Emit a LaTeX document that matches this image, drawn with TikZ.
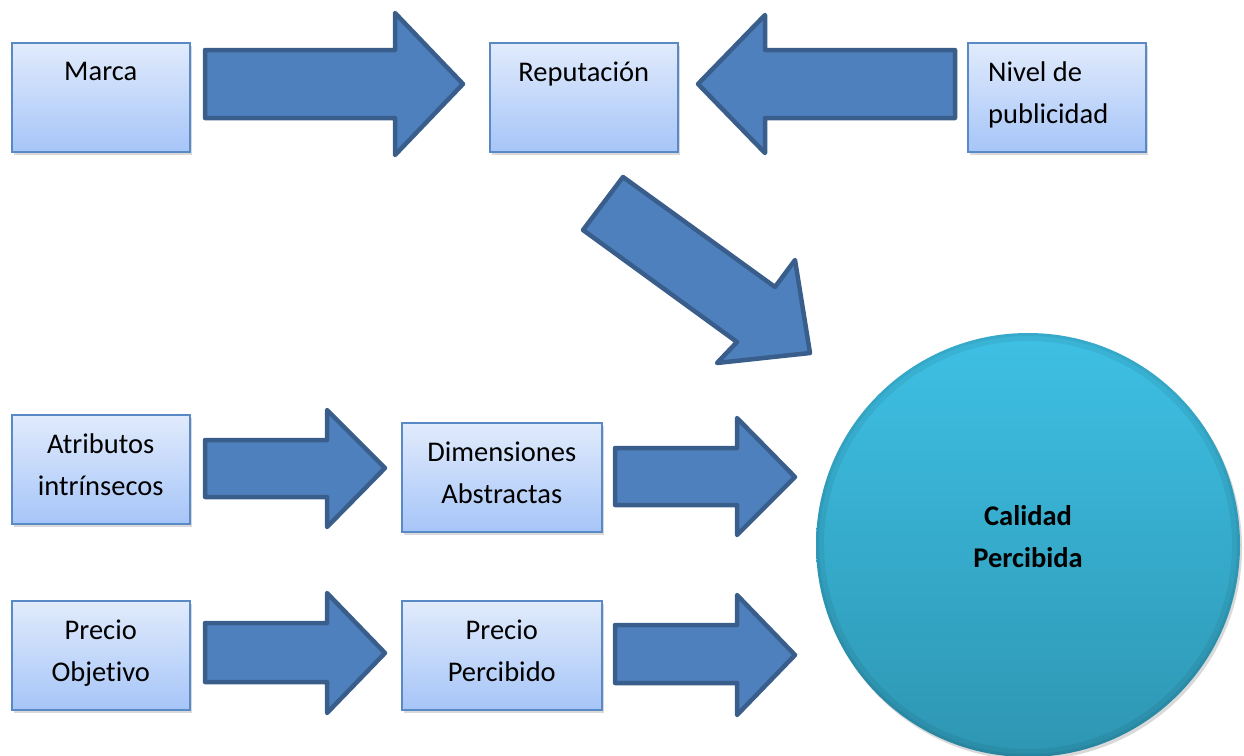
\documentclass[tikz,border=0pt]{standalone}
\usepackage{fontspec}
\setmainfont{Carlito}[Ligatures=NoCommon]
\usetikzlibrary{shadows}
\definecolor{boxtop}{HTML}{E1EBFC}
\definecolor{boxbot}{HTML}{A6C5F8}
\definecolor{boxline}{HTML}{5A8AC6}
\definecolor{arrfill}{HTML}{4D80BD}
\definecolor{arrline}{HTML}{3A5E8C}
\definecolor{ctop}{HTML}{3EC0E4}
\definecolor{cbot}{HTML}{2E96B3}
\tikzset{
  bx/.style={draw=boxline, line width=1.5pt, top color=boxtop, bottom color=boxbot,
    drop shadow={shadow xshift=2pt, shadow yshift=-3pt, opacity=0.3},
    inner sep=0pt, anchor=north west, minimum height=109pt},
  bigarrow/.style={draw=arrline, fill=arrfill, line width=4.5pt, line join=round},
  lbl/.style={font=\fontsize{28.5}{41.5}\selectfont, align=center, inner sep=0pt, anchor=north},
  clbl/.style={font=\fontsize{28.5}{42}\selectfont\bfseries, align=center, inner sep=0pt, anchor=north}
}
\begin{document}
\begin{tikzpicture}[x=1pt,y=-1pt]
\useasboundingbox (0,0) rectangle (1244,755);

% boxes
\node[bx, minimum width=178pt] (marca) at (11,42) {};
\node[bx, minimum width=188pt] (rep) at (489,42) {};
\node[bx, minimum width=178pt] (nivel) at (967,42) {};
\node[bx, minimum width=178pt] (atr) at (11,414) {};
\node[bx, minimum width=200pt] (dim) at (401,422) {};
\node[bx, minimum width=178pt] (pobj) at (11,600) {};
\node[bx, minimum width=200pt] (pper) at (401,600) {};

% labels
\node[lbl] (tmarca) at ([yshift=-20pt]marca.north) {Marca};
\node[lbl] (trep) at ([yshift=-20pt]rep.north) {Reputación};
\node[lbl, align=left, anchor=north west] (tnivel) at ([xshift=21pt,yshift=-20pt]nivel.north west) {Nivel de\\publicidad};
\node[lbl] (tatr) at ([yshift=-20pt]atr.north) {Atributos\\intrínsecos};
\node[lbl] (tdim) at ([yshift=-20pt]dim.north) {Dimensiones\\Abstractas};
\node[lbl] (tpobj) at ([yshift=-20pt]pobj.north) {Precio\\Objetivo};
\node[lbl] (tpper) at ([yshift=-20pt]pper.north) {Precio\\Percibido};

% circle
\node[circle, minimum size=424pt, inner sep=0pt, top color=ctop, bottom color=cbot,
  drop shadow={shadow xshift=2pt, shadow yshift=-3pt, opacity=0.3}] (cq) at (1028,545) {};
\draw[draw=black, draw opacity=0.06, line width=8pt] (cq.center) circle[radius=208];
\draw[draw=black, draw opacity=0.05, line width=3pt] (cq.center) circle[radius=210.5];
\node[clbl] (tcq) at ([yshift=40pt]cq.center) {Calidad\\Percibida};

% block arrows
\draw[bigarrow] (205,50) -- (395,50) -- (395,13) -- (463,84) -- (395,155) -- (395,118) -- (205,118) -- cycle;
\draw[bigarrow] (955,50) -- (765,50) -- (765,15) -- (698,84) -- (765,153) -- (765,118) -- (955,118) -- cycle;
\draw[bigarrow] (623,177) -- (775,287) -- (795,260) -- (810,353) -- (717,363) -- (737,342) -- (583,230) -- cycle;
\draw[bigarrow] (205,440) -- (327,440) -- (327,410) -- (385,468) -- (327,527) -- (327,497) -- (205,497) -- cycle;
\draw[bigarrow] (615,448) -- (737,448) -- (737,418) -- (795,477) -- (737,535) -- (737,505) -- (615,505) -- cycle;
\draw[bigarrow] (205,623) -- (327,623) -- (327,593) -- (385,653) -- (327,713) -- (327,682) -- (205,682) -- cycle;
\draw[bigarrow] (615,625) -- (737,625) -- (737,595) -- (795,655) -- (737,715) -- (737,683) -- (615,683) -- cycle;
\end{tikzpicture}
\end{document}
